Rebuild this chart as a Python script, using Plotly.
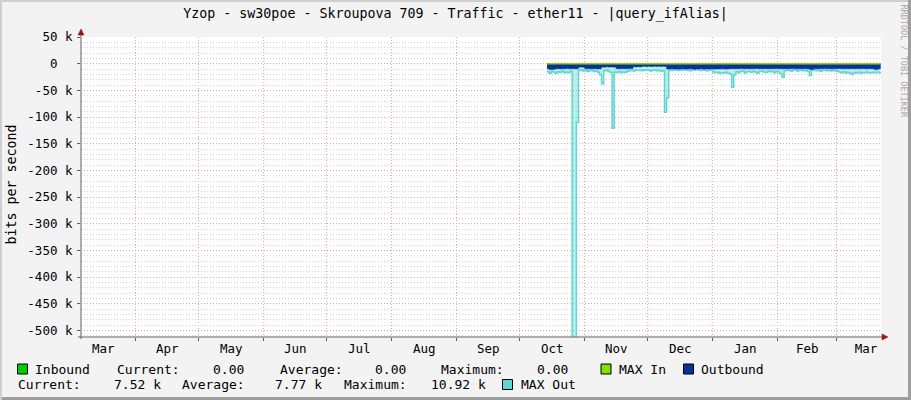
import pandas as pd
import plotly.graph_objects as go

FONT = "DejaVu Sans Mono"
TITLE = "Yzop - sw30poe - Skroupova 709 - Traffic - ether11 - |query_ifAlias|"

# daily samples in kbit/s, first sample on start_day (outbound is drawn below zero)
start_day = "2022-10-14"

max_out_k = [
    15.2, 17.8, 14.6, 16.3, 18.1, 15.0, 16.4, 13.9, 17.2, 15.5, 16.8, 14.2,
    690, 640, 110,
    12.8, 11.5, 13.9, 12.2, 14.6, 13.1, 12.0, 14.8, 13.4, 15.9,
    21, 37.5,
    13.5, 12.1, 14.7, 16.0,
    121,
    15.8, 16.4, 14.9, 17.1, 15.2, 16.6, 14.3, 13.2, 12.4, 13.6,
    11.8, 12.9, 12.2, 13.5, 11.6, 12.8, 12.1, 13.7, 12.5, 11.9,
    13.1, 12.4, 14.0, 12.7,
    91, 64,
    11.8, 12.6, 10.9, 12.2, 13.0, 11.5, 12.4, 10.8, 11.9, 12.7,
    13.4, 11.2, 12.1, 10.6, 11.7, 12.9, 11.4, 12.3, 13.1, 11.0,
    12.5, 15.8, 17.2, 16.1, 18.4, 16.9, 17.6, 15.9, 18.2,
    19.5, 44, 21,
    15.1, 16.8, 14.2, 13.6, 17.4, 15.0, 14.3, 16.2, 13.8, 15.5,
    17.9, 14.6, 13.9, 15.8, 16.5, 14.1, 15.2, 13.7, 16.9, 14.8, 15.6,
    19, 25.5,
    13.2, 11.8, 12.6, 14.1, 12.3, 11.5, 13.7, 12.9, 11.9, 13.4, 12.2, 14.6,
    22,
    12.8, 11.6, 13.3, 12.1, 14.2, 12.7, 11.8, 13.5, 12.4, 13.9,
    12.0, 13.1, 14.4, 15.6, 16.8, 15.2, 17.3, 16.1, 17.8,
    20.5,
    16.4, 17.5, 15.9, 18.1, 16.7, 17.2, 15.8, 16.9, 17.7, 16.2,
    17.0, 15.6, 16.8, 16.3,
]

outbound_k = [
    9.6, 10.9, 11.0, 10.6,
    9.5, 9.3, 9.8, 9.4, 9.6, 9.2, 9.7, 9.5, 9.3, 9.6, 9.4,
    6.6, 6.3, 6.8,
    9.5, 9.7, 9.4, 9.6, 9.3, 9.5, 9.8, 9.4,
    6.2, 6.5, 6.0, 6.4, 6.3, 6.1, 6.6,
    9.4, 9.6, 9.5, 9.3, 9.7, 9.4, 9.5, 9.2,
    6.0, 6.2, 5.8, 6.1, 5.2, 4.9, 5.3, 5.0, 5.4, 5.1,
    4.8, 5.2, 5.0, 5.3, 4.9, 5.4,
    9.9, 10.1, 9.7, 10.0, 9.8, 10.2, 9.9, 9.6, 10.0, 9.8,
    10.1, 9.7, 9.9, 10.3, 9.8, 10.0, 9.6, 9.9, 10.1, 9.8,
    10.0, 9.7, 10.2, 9.9, 9.8, 10.0, 9.6, 9.9, 10.1, 9.8,
    9.4, 9.5, 9.3, 9.6, 9.4, 9.2, 9.5, 9.7, 9.3, 9.4,
    9.6, 9.5, 9.2, 9.4, 9.6, 9.3, 9.5, 9.4, 9.7, 9.3,
    9.5, 9.4, 9.2, 9.6, 9.4, 9.5, 9.3, 9.6, 9.4, 9.5,
    9.2, 9.4, 9.6, 9.3, 9.5, 9.4, 9.3, 9.6,
    10.9, 10.8,
    9.4, 9.5, 9.3, 9.6, 9.4, 9.2, 9.5, 9.4, 9.6, 9.3,
    9.5, 9.4, 9.2, 9.5, 9.6, 9.4, 9.3, 9.5, 9.4, 9.6,
    9.3, 9.4, 9.5, 9.2, 9.4, 9.6, 9.3, 9.5, 9.4,
    10.9, 10.7,
    9.5, 9.4,
]

# inbound was flat zero over the same period
inbound_days = ["2022-10-14", "2023-03-22"]
inbound = [0, 0]
max_in = [0, 0]

# legend statistics (outbound)
legend_row1 = ["Inbound", "Current:", "0.00", "Average:", "0.00", "Maximum:", "0.00", "MAX In", "Outbound"]
legend_row2 = ["Current:", "7.52 k", "Average:", "7.77 k", "Maximum:", "10.92 k", "MAX Out"]

y_tickvals = [50000, 0, -50000, -100000, -150000, -200000, -250000,
              -300000, -350000, -400000, -450000, -500000]
y_ticktext = ["50 k", "0\u00a0\u00a0", "-50 k", "-100 k", "-150 k", "-200 k", "-250 k",
              "-300 k", "-350 k", "-400 k", "-450 k", "-500 k"]

x_range = ["2022-03-05 22:00", "2023-03-22 04:00"]
y_range = [-512500, 50000]

days = pd.date_range(start_day, periods=len(max_out_k), freq="D")


# pixel -> paper helpers (plot area is 800x300 starting at 81,37)
def px(x):
    return (x - 81) / 800


def py(y):
    return (337 - y) / 300


fig = go.Figure()

# MAX Out area behind the outbound area
fig.add_trace(go.Scatter(
    x=days, y=[-v * 1000 for v in max_out_k],
    mode="lines", line=dict(color="#5ed6d2", width=1.5, shape="hv"),
    fill="tozeroy", fillcolor="rgba(94,214,210,0.42)",
    showlegend=False, hoverinfo="skip",
))
fig.add_trace(go.Scatter(
    x=days, y=[-v * 1000 for v in outbound_k],
    mode="lines", line=dict(color="#0b2f9c", width=0.5, shape="hv"),
    fill="tozeroy", fillcolor="#0b2f9c",
    showlegend=False, hoverinfo="skip",
))
fig.add_trace(go.Scatter(
    x=inbound_days, y=inbound, mode="lines",
    line=dict(color="#00cc00", width=1), showlegend=False, hoverinfo="skip",
))
fig.add_trace(go.Scatter(
    x=inbound_days, y=max_in, mode="lines",
    line=dict(color="#8ad400", width=1.5), showlegend=False, hoverinfo="skip",
))

fig.update_xaxes(
    type="date", range=x_range, dtick="M1", tick0="2022-01-01",
    ticklabelmode="period", tickformat="%b",
    showgrid=True, gridcolor="#f0a0a0", griddash="1px,2px", gridwidth=1,
    ticks="outside", ticklen=3, tickcolor="#606060", ticklabelstandoff=-3,
    tickfont=dict(family=FONT, size=12.5, color="#000000"),
    showline=False, zeroline=False, automargin=False,
)
fig.update_yaxes(
    range=y_range, tickmode="array", tickvals=y_tickvals, ticktext=y_ticktext,
    showgrid=True, gridcolor="#f0a0a0", griddash="1px,2px", gridwidth=1,
    minor=dict(dtick=10000, tick0=0, showgrid=True, gridcolor="#d4d4d4", griddash="1px,2px"),
    ticks="outside", ticklen=3, tickcolor="#606060", ticklabelstandoff=2,
    tickfont=dict(family=FONT, size=12.5, color="#000000"),
    showline=False, zeroline=False, automargin=False,
)

shapes = []
# rrdtool style frame
shapes.append(dict(type="rect", xref="paper", yref="paper", x0=px(0), x1=px(911), y0=py(0), y1=py(2),
                   fillcolor="#cfcfcf", line=dict(width=0)))
shapes.append(dict(type="rect", xref="paper", yref="paper", x0=px(0), x1=px(2), y0=py(0), y1=py(400),
                   fillcolor="#cfcfcf", line=dict(width=0)))
shapes.append(dict(type="rect", xref="paper", yref="paper", x0=px(908), x1=px(911), y0=py(0), y1=py(400),
                   fillcolor="#9e9e9e", line=dict(width=0)))
shapes.append(dict(type="rect", xref="paper", yref="paper", x0=px(2), x1=px(911), y0=py(397), y1=py(400),
                   fillcolor="#9e9e9e", line=dict(width=0)))
# axes with arrows
shapes.append(dict(type="line", xref="paper", yref="paper", x0=0, x1=0, y0=py(339), y1=py(32),
                   line=dict(color="#606060", width=1), layer="above"))
shapes.append(dict(type="line", xref="paper", yref="paper", x0=px(78), x1=px(884), y0=0, y1=0,
                   line=dict(color="#606060", width=1), layer="above"))
shapes.append(dict(type="path", xref="paper", yref="paper",
                   path=f"M {px(78)},{py(35)} L {px(81)},{py(29)} L {px(84)},{py(35)} Z",
                   fillcolor="#991111", line=dict(color="#991111", width=0.5), layer="above"))
shapes.append(dict(type="path", xref="paper", yref="paper",
                   path=f"M {px(882)},{py(334)} L {px(888)},{py(337)} L {px(882)},{py(340)} Z",
                   fillcolor="#991111", line=dict(color="#991111", width=0.5), layer="above"))

# legend swatches
swatches = [
    (17.5, 364, "#00cc00"),
    (601, 364, "#80e000"),
    (683.5, 364, "#0b2f9c"),
    (502.5, 379.5, "#5ed6d2"),
]
for sx, sy, col in swatches:
    shapes.append(dict(type="rect", xref="paper", yref="paper",
                       x0=px(sx), x1=px(sx + 10), y0=py(sy), y1=py(sy + 10),
                       fillcolor=col, line=dict(color="#000000", width=1)))

annotations = []
row1_x = [33.7, 116, 212, 279, 373.6, 440, 535.7, 617.6, 700]
row2_x = [17.4, 113, 181, 274, 343, 430, 520]
for txt, lx in zip(legend_row1, row1_x):
    annotations.append(dict(text=txt, x=px(lx - 1), y=py(369), xref="paper", yref="paper",
                            xanchor="left", yanchor="middle", showarrow=False,
                            font=dict(family=FONT, size=13, color="#000000")))
for txt, lx in zip(legend_row2, row2_x):
    annotations.append(dict(text=txt, x=px(lx - 1), y=py(384.5), xref="paper", yref="paper",
                            xanchor="left", yanchor="middle", showarrow=False,
                            font=dict(family=FONT, size=13, color="#000000")))

annotations.append(dict(text="bits per second", x=px(10.5), y=py(185), xref="paper", yref="paper",
                        textangle=-90, showarrow=False, xanchor="center", yanchor="middle",
                        font=dict(family=FONT, size=13.3, color="#000000")))
annotations.append(dict(text="RRDTOOL / TOBI OETIKER", x=px(903.5), y=py(61), xref="paper", yref="paper",
                        textangle=90, showarrow=False, xanchor="center", yanchor="middle",
                        font=dict(family=FONT, size=8.5, color="#a8a8a8")))

fig.update_layout(
    width=911, height=400,
    margin=dict(l=81, r=30, t=37, b=63),
    paper_bgcolor="#f3f3f3", plot_bgcolor="#ffffff",
    title=dict(text=TITLE, x=0.5, xanchor="center", y=1 - 13.5 / 400, yanchor="middle",
               font=dict(family=FONT, size=13.3, color="#000000")),
    shapes=shapes, annotations=annotations,
    showlegend=False,
)

# drop the browser's default page margin so the figure sits at the window corner
fig.write_html("out.html", config={"displayModeBar": False},
               post_script="document.body.style.margin = '0';")
